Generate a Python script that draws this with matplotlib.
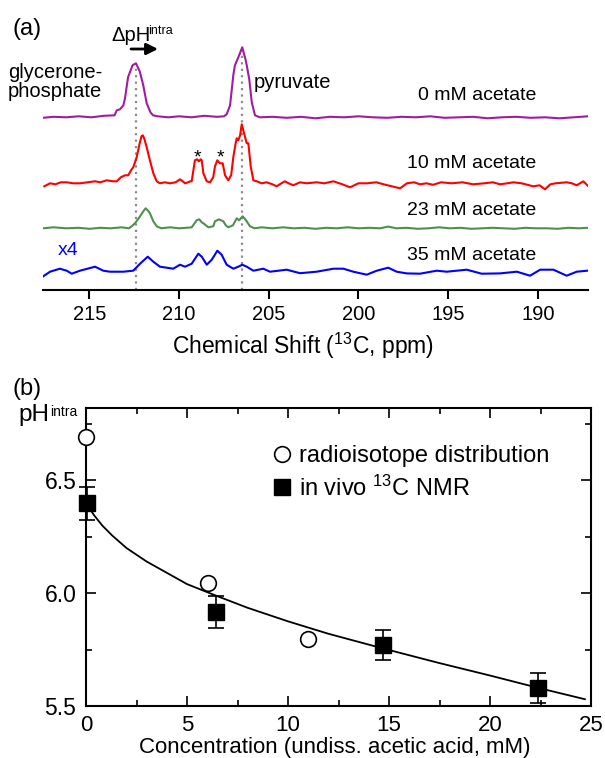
import matplotlib
matplotlib.use('Agg')
import matplotlib.pyplot as plt
from matplotlib.lines import Line2D
from matplotlib.ticker import MultipleLocator

FONT = 'Liberation Sans'
plt.rcParams['font.family'] = [FONT, 'DejaVu Sans']
plt.rcParams['mathtext.fontset'] = 'custom'
plt.rcParams['mathtext.rm'] = FONT
plt.rcParams['mathtext.it'] = FONT + ':italic'

# ---------------- data: panel (a) spectra (ppm, intensity a.u.) ----------------
purple_ppm = [217.6, 217.0, 216.3, 215.6, 214.9, 214.2, 213.6, 213.48, 213.3, 213.11, 213.02, 212.85,
              212.6, 212.41, 212.2, 212.0, 211.81, 211.6, 211.46, 211.2, 210.6, 210.0, 209.3, 208.6,
              207.9, 207.5, 207.35, 207.16, 206.98, 206.89, 206.7, 206.48, 206.3, 206.23, 206.09,
              205.95, 205.77, 205.5, 204.8, 204.0, 203.2, 202.4, 201.6, 200.8, 200.0, 199.2, 198.4,
              197.6, 196.8, 196.0, 195.2, 194.4, 193.6, 192.8, 192.0, 191.2, 190.4, 189.6, 188.8,
              188.0, 187.2]
purple_int = [-0.5, 0.5, 0, 1, 0, 1.5, 2, 7, 8, 12, 19, 40, 52, 54, 46, 32, 14, 5, 2, 1, 0, 1, 0, 1.5,
              0.5, 1, 3, 12, 42, 52, 60, 70, 58, 52, 38, 15, 2, 0, 0.5, -0.5, 0.5, -1, 0.5, 0, 1, 0,
              -0.5, 0.5, 0, 1, -0.5, 0, 0.5, -1, 0, 0.5, -0.5, 0, -1, 0, 1]

red_ppm = [217.52, 217.2, 216.9, 216.6, 216.27, 215.9, 215.53, 215.1, 214.69, 214.4, 214.04, 213.7,
           213.48, 213.25, 213.02, 212.84, 212.65, 212.56, 212.37, 212.2, 212.1, 212.03, 211.95,
           211.81, 211.63, 211.44, 211.25, 211.07, 210.8, 210.51, 210.2, 209.95, 209.8, 209.67,
           209.5, 209.39, 209.30, 209.12, 209.0, 208.9, 208.8, 208.74, 208.65, 208.46, 208.28,
           208.1, 208.0, 207.87, 207.78, 207.72, 207.57, 207.44, 207.26, 207.1, 206.98, 206.85,
           206.79, 206.70, 206.6, 206.51, 206.38, 206.23, 206.14, 206.01, 205.86, 205.67, 205.4,
           205.12, 204.8, 204.56, 204.3, 204.10, 203.9, 203.63, 203.26, 202.9, 202.33, 201.9,
           201.40, 200.9, 200.47, 200.0, 199.54, 199.0, 198.6, 197.68, 197.3, 196.9, 196.57,
           196.2, 195.84, 195.4, 194.8, 194.2, 193.6, 193.0, 192.5, 192.11, 191.7, 191.36, 190.9,
           190.25, 189.9, 189.60, 189.3, 189.0, 188.39, 188.1, 187.83, 187.46, 187.18]
red_int = [-3, 0, -1, 1, 1, 0, 0, 1, 2, 1, 3, 2, 2, 6, 8, 8, 14, 16, 26, 40, 47, 48, 45, 36, 23, 10,
           2, 0, 1, 0, 1, 4, 2, 0, 1, 2, 2, 23, 24, 22, 24, 23, 10, 2, 1, 6, 17, 23, 21, 20, 20, 8, 3,
           8, 26, 40, 45, 43, 48, 59, 50, 40, 40, 17, 3, 2, 0, 1, -1, -3, 0, 2, 0, -2, 1, 0, 1, 0, 2,
           -1, -4, 0, 0, 1, -1, -5, 0, 1, -1, 0, -1.5, 1, 0, 1, -1, 0, 1, -1, 0, 1, 0, -3, -2, -6,
           -1, 0, 1, 0, -2, 2, -3]

green_ppm = [217.6, 217.0, 216.3, 215.6, 215.0, 214.4, 213.8, 213.2, 212.8, 212.65, 212.46, 212.18,
             212.0, 211.87, 211.7, 211.63, 211.44, 211.25, 211.0, 210.5, 210.0, 209.6, 209.3, 209.02,
             208.88, 208.74, 208.65, 208.37, 208.1, 208.0, 207.78, 207.54, 207.4, 207.26, 207.0,
             206.79, 206.65, 206.46, 206.27, 206.05, 205.8, 205.4, 204.8, 204.2, 203.6, 203.0, 202.4,
             201.8, 201.2, 200.6, 200.0, 199.4, 198.8, 198.34, 197.9, 197.3, 196.7, 196.1, 195.5,
             194.9, 194.3, 193.7, 193.1, 192.5, 191.9, 191.3, 190.7, 190.1, 189.5, 188.9, 188.3,
             187.7, 187.2]
green_int = [0, 1, 0, 0.5, -0.5, 0.5, 0, 1, 0, 2, 5, 12, 17, 20, 17, 15, 7, 2, 0, 1, 0, 0.5, 1, 8, 9,
             6, 5, 1, 2, 7, 9, 7, 3, 1, 3, 10, 8, 12, 8, 2, 0, 1, 0, 1, 0, 0.5, -0.5, 0.5, 0, 1, 0, 0.5,
             0, 1.7, 0, 0.5, -0.5, 0, 1, 0, 0.5, -0.5, 0, 0.5, 0, -0.5, 0.5, 0, 0, -0.5, 0.5, 0, 0.5]

blue_ppm = [217.61, 217.20, 216.65, 216.27, 215.99, 215.53, 214.69, 214.23, 213.86, 213.11, 212.56,
            212.18, 211.75, 211.44, 211.07, 210.69, 210.33, 209.95, 209.67, 209.30, 208.93, 208.74,
            208.46, 208.18, 207.87, 207.63, 207.35, 206.98, 206.70, 206.48, 206.23, 205.86, 205.31,
            204.93, 204.00, 203.26, 202.33, 201.40, 200.84, 200.29, 199.54, 198.98, 198.34, 197.87,
            197.31, 196.57, 195.64, 195.08, 193.96, 193.13, 192.11, 191.17, 190.43, 189.87, 189.13,
            188.39, 187.83, 187.24]
blue_int = [-5, 0, 3, 1, -2, 1, 5, 1, 0, 0, 1, 8, 15, 10, 5, 4, 3, 7, 5, 8, 18, 15, 7, 12, 21, 17, 7,
            3, 5, 7, 5, 1, 3, 0, 2, -1.5, 0, 3, 3, 0, -3, 1, 4, 0, -1.7, -2, 1, 0, 2, -2, -1.7, 0, -4,
            2, 2, -4, 0, 1]

spectra = [(purple_ppm, purple_int, 172.7, '#a21c9f'),
           (red_ppm, red_int, 106.7, '#ff0000'),
           (green_ppm, green_int, 61.7, '#508f50'),
           (blue_ppm, blue_int, 18.3, '#0000ff')]
trace_labels = ['0 mM acetate', '10 mM acetate', '23 mM acetate', '35 mM acetate']
ref_peaks_ppm = [212.41, 206.48]      # 0 mM peak positions (dotted guides)
ref_peaks_int = [54, 70]
ppm_ticks = [215, 210, 205, 200, 195, 190]

# ---------------- data: panel (b) ----------------
radio_x = [0.0, 6.02, 10.99]
radio_y = [6.69, 6.046, 5.796]
nmr_x = [0.05, 6.42, 14.72, 22.4]
nmr_y = [6.397, 5.917, 5.77, 5.58]
nmr_err = [0.071, 0.07, 0.068, 0.066]
fit_x = [0.1, 0.4, 0.8, 1.3, 2.0, 3.0, 4.0, 5.0, 6.4, 8.0, 10.0, 12.0, 14.7, 17.5, 20.0, 22.4, 24.7]
fit_y = [6.385, 6.345, 6.30, 6.255, 6.20, 6.14, 6.09, 6.04, 5.99, 5.935, 5.875, 5.82, 5.755, 5.69,
         5.635, 5.58, 5.53]

W, H = 605, 758
fig = plt.figure(figsize=(W / 100, H / 100), dpi=100)

def fy(py):
    return 1 - py / H

# ---------------- panel (a) ----------------
ax1 = fig.add_axes([42.5 / W, 1 - 290 / H, (588 - 42.5) / W, 290 / H])
ax1.set_xlim(217.62, 187.2)
ax1.set_ylim(0, 290)
for s in ['left', 'right', 'top']:
    ax1.spines[s].set_visible(False)
ax1.spines['bottom'].set_linewidth(1.5)
ax1.set_xticks(ppm_ticks)
ax1.set_xticklabels([str(t) for t in ppm_ticks])
ax1.tick_params(axis='x', direction='out', length=6.5, width=1.5, labelsize=14.5, pad=4)
ax1.set_yticks([])
ax1.patch.set_alpha(0)

for xp, hp in zip(ref_peaks_ppm, ref_peaks_int):
    ax1.plot([xp, xp], [0, spectra[0][2] + hp], color='#8c8c8c', lw=1.6,
             linestyle=(0, (1.0, 1.9)), zorder=1)

for (xs, ys, off, col) in spectra:
    ax1.plot(xs, [v + off for v in ys], color=col, lw=1.5, zorder=3)

for lab, by in zip(trace_labels, [100, 168, 215, 260]):
    fig.text(536.5 / W, fy(by), lab, ha='right', va='baseline', fontsize=14)

fig.text(12 / W, fy(35), '(a)', ha='left', va='baseline', fontsize=17)
fig.text(111 / W, fy(41), 'ΔpH', ha='left', va='baseline', fontsize=14.5)
fig.text(148.5 / W, fy(34.5), 'intra', ha='left', va='baseline', fontsize=9)
fig.text(8 / W, fy(78), 'glycerone-', ha='left', va='baseline', fontsize=14.5)
fig.text(8 / W, fy(97), 'phosphate', ha='left', va='baseline', fontsize=14.5)
fig.text(254 / W, fy(88), 'pyruvate', ha='left', va='baseline', fontsize=14.5)
fig.text(58 / W, fy(255), 'x4', ha='left', va='baseline', fontsize=14, color='#0000ff')
for sx in [197, 220]:
    fig.text(sx / W, fy(162), '*', ha='center', va='baseline', fontsize=14)
fig.text(303 / W, fy(354), r'Chemical Shift ($^{13}$C, ppm)', ha='center', va='baseline', fontsize=16.5)
ax1.annotate('', xy=(158, H - 49), xytext=(131, H - 49), xycoords='figure pixels',
             textcoords='figure pixels',
             arrowprops=dict(arrowstyle='-|>', lw=2, color='k', mutation_scale=17,
                             shrinkA=0, shrinkB=0))

# ---------------- panel (b) ----------------
ax2 = fig.add_axes([86 / W, 1 - 706 / H, 505 / W, 298 / H])
ax2.set_xlim(0, 25)
ax2.set_ylim(5.5, 6.82)
for s in ax2.spines.values():
    s.set_linewidth(1.5)
ax2.xaxis.set_major_locator(MultipleLocator(5))
ax2.xaxis.set_minor_locator(MultipleLocator(2.5))
ax2.set_yticks([5.5, 6.0, 6.5])
ax2.set_yticklabels(['5.5', '6.0', '6.5'])
ax2.yaxis.set_minor_locator(MultipleLocator(0.25))
ax2.tick_params(which='both', direction='in', top=True, right=True, width=1.2)
ax2.tick_params(which='major', length=7, labelsize=16.5, pad=7)
ax2.tick_params(axis='x', which='major', labelsize=16, pad=6.5)
ax2.tick_params(which='minor', length=4.5)

ax2.plot(fit_x, fit_y, color='k', lw=1.3, zorder=2)
ax2.plot(radio_x, radio_y, 'o', mfc='white', mec='k', mew=1.2, ms=11.3, zorder=4, clip_on=False)
ax2.errorbar(nmr_x, nmr_y, yerr=nmr_err, fmt='s', color='k', ms=12, capsize=6,
             elinewidth=1.2, capthick=1.2, zorder=5, clip_on=False)

handles = [Line2D([], [], marker='o', ls='none', mfc='white', mec='k', mew=1.2, ms=11.3),
           Line2D([], [], marker='s', ls='none', color='k', ms=12)]
ax2.legend(handles, ['radioisotope distribution', r'in vivo $^{13}$C NMR'],
           loc='upper left', bbox_to_anchor=(273 / W, fy(445)), bbox_transform=fig.transFigure,
           frameon=False, fontsize=17, handlelength=0.8, handletextpad=0.3,
           labelspacing=0.35, borderpad=0, borderaxespad=0)

fig.text(12 / W, fy(395), '(b)', ha='left', va='baseline', fontsize=17)
fig.text(18 / W, fy(421), 'pH', ha='left', va='baseline', fontsize=17.5)
fig.text(50 / W, fy(416), 'intra', ha='left', va='baseline', fontsize=10)
fig.text(335 / W, fy(757.5), 'Concentration (undiss. acetic acid, mM)', ha='center',
         va='bottom', fontsize=16)

fig.savefig('out.png', dpi=100)
